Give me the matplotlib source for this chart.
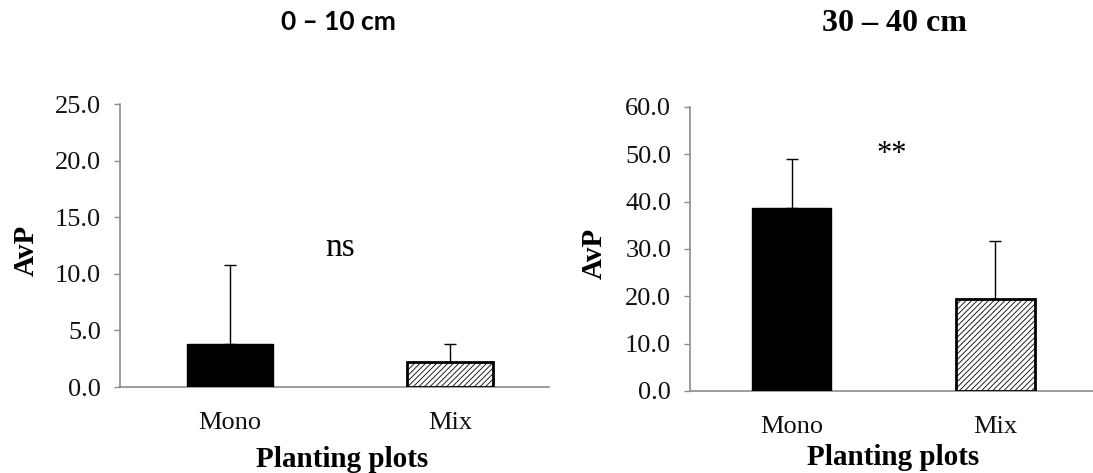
import matplotlib
matplotlib.use('Agg')
import matplotlib.pyplot as plt
import numpy as np

# data
categories = ['Mono', 'Mix']
avp_0_10 = [3.8, 2.2]
err_0_10 = [7.0, 1.6]
avp_30_40 = [38.6, 19.5]
err_30_40 = [10.4, 12.2]

plt.rcParams['font.family'] = ['Liberation Serif', 'DejaVu Serif']
plt.rcParams['hatch.linewidth'] = 0.6
plt.rcParams['hatch.color'] = 'black'

AXIS_GRAY = '#8c8c8c'


def draw_panel(ax, values, errors, ymax, step, xmax):
    x = np.arange(len(categories))
    # mono: solid black, mix: hatched white with heavy border
    ax.bar(x[0], values[0], width=0.39, color='black', edgecolor='black', linewidth=1, zorder=3)
    ax.bar(x[1], values[1], width=0.39, color='white', edgecolor='black', hatch='//////', linewidth=2, zorder=3)
    ax.errorbar(x, values, yerr=[np.zeros(len(errors)), errors], fmt='none',
                ecolor='black', elinewidth=1, capsize=4, capthick=1, zorder=2)
    ax.set_xlim(-0.5, xmax)
    ax.set_ylim(0, ymax)
    ax.set_yticks(np.arange(0, ymax + step / 2, step))
    ax.yaxis.set_major_formatter(matplotlib.ticker.FormatStrFormatter('%.1f'))
    ax.set_xticks(x)
    ax.set_xticklabels(categories)
    for side in ['top', 'right']:
        ax.spines[side].set_visible(False)
    for side in ['left', 'bottom']:
        ax.spines[side].set_color(AXIS_GRAY)
        ax.spines[side].set_linewidth(1.2)
    ax.tick_params(axis='y', direction='out', length=4.5, width=1, color=AXIS_GRAY,
                   labelsize=19, pad=9, labelcolor='#111111')
    ax.tick_params(axis='x', length=0, labelsize=19, pad=18, labelcolor='#111111')


fig = plt.figure(figsize=(10.93, 4.73), dpi=100)

ax1 = fig.add_axes([0.1098, 0.1818, 0.3925, 0.5983])
draw_panel(ax1, avp_0_10, err_0_10, 25, 5, 1.45)
ax1.text(0.5, 12.3, 'ns', ha='center', va='center', fontsize=24)

ax2 = fig.add_axes([0.6313, 0.1734, 0.3687, 0.6004])
draw_panel(ax2, avp_30_40, err_30_40, 60, 10, 1.48)
ax2.text(0.49, 50, '**', ha='center', va='center', fontsize=22)

# titles
fig.text(0.310, 0.953, '0 – 10 cm', ha='center', va='center', fontsize=19,
         fontweight='bold', family=['Lato', 'DejaVu Sans'])
fig.text(0.818, 0.951, '30 – 40 cm', ha='center', va='center', fontsize=23,
         fontweight='bold')

# axis labels
fig.text(0.0238, 0.4715, 'AvP', rotation=90, ha='center', va='center',
         fontsize=21, fontweight='bold')
fig.text(0.5435, 0.465, 'AvP', rotation=90, ha='center', va='center',
         fontsize=21, fontweight='bold')
fig.text(0.3129, 0.0275, 'Planting plots', ha='center', va='center',
         fontsize=21, fontweight='bold')
fig.text(0.817, 0.032, 'Planting plots', ha='center', va='center',
         fontsize=21, fontweight='bold')

fig.savefig('out.png', dpi=100, facecolor='white')
